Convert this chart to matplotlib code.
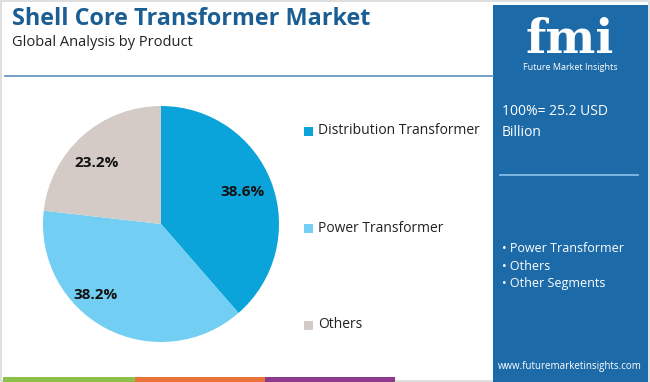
import matplotlib.pyplot as plt
from matplotlib.patches import Rectangle

# データ
segments = ["Distribution Transformer", "Power Transformer", "Others"]
shares = [38.6, 38.2, 23.2]
pct_labels = ["38.6%", "38.2%", "23.2%"]
colors = ["#0aa4da", "#72cef3", "#d5cbc6"]

panel_items = ["Power Transformer", "Others", "Other Segments"]
total_text = "100%= 25.2 USD\nBillion"

W, H = 650, 382
plt.rcParams['font.family'] = ['Open Sans', 'DejaVu Sans']

fig = plt.figure(figsize=(W / 100, H / 100), dpi=100)
bg = fig.add_axes([0, 0, 1, 1])
bg.set_xlim(0, W)
bg.set_ylim(H, 0)
bg.axis("off")

# 外枠
bg.add_patch(Rectangle((1, 1), W - 2, H - 2, fill=False, ec="#d9d9d9", lw=1.2))

# タイトル
bg.text(12, 19, "Shell Core Transformer Market", fontsize=16.8, fontweight="bold",
        color="#1b5e93", va="center", ha="left")
bg.text(12, 42, "Global Analysis by Product", fontsize=10.5, color="#222222",
        va="center", ha="left")
bg.plot([5, 493], [76, 76], color="#5d8fb8", lw=1.2)

# 下部のカラーバー
strip = [("#8cc04b", 3, 135), ("#e8743b", 135, 265), ("#8b3a8e", 265, 395)]
for c, x0, x1 in strip:
    bg.add_patch(Rectangle((x0, 377), x1 - x0, 5, color=c, lw=0))

# 右パネル
bg.add_patch(Rectangle((493, 5), 155, 377, color="#1d6aa8", lw=0))
bg.text(570, 40, "fmi", fontsize=34, fontweight="bold", family="DejaVu Serif",
        color="white", ha="center", va="center")
bg.text(570, 67, "Future Market Insights", fontsize=6.5, color="white",
        ha="center", va="center")
bg.text(502, 122, total_text, fontsize=10, color="white", ha="left",
        va="center", linespacing=1.6)
bg.plot([500, 638], [175, 175], color="#8fc3ea", lw=1.2)
for i, item in enumerate(panel_items):
    bg.text(502, 248 + 18 * i, "\u2022 " + item, fontsize=9, color="white",
            ha="left", va="center")
bg.text(570, 366, "www.futuremarketinsights.com", fontsize=7, color="white",
        ha="center", va="center")

# 凡例
for i, (seg, c) in enumerate(zip(segments, colors)):
    y = 131 + 97 * i
    bg.add_patch(Rectangle((304, y - 4.5), 9, 9, color=c, lw=0))
    bg.text(318, y, seg, fontsize=10, color="#222222", ha="left", va="center")

# 円グラフ
cx, cy, r = 161, 224, 118
ax = fig.add_axes([(cx - r) / W, (H - cy - r) / H, 2 * r / W, 2 * r / H])
wedges, _ = ax.pie(shares, colors=colors, startangle=90, counterclock=False,
                   wedgeprops=dict(lw=0))
ax.set_xlim(-1, 1)
ax.set_ylim(-1, 1)
ax.set_aspect("equal")
ax.axis("off")

label_pos = [(243, 192), (96, 295), (97, 163)]
for (lx, ly), txt in zip(label_pos, pct_labels):
    ax.text(lx, ly, txt, fontsize=11, fontweight="bold", color="#111111",
            ha="center", va="center", transform=bg.transData, clip_on=False)

fig.savefig("out.png", dpi=100)
